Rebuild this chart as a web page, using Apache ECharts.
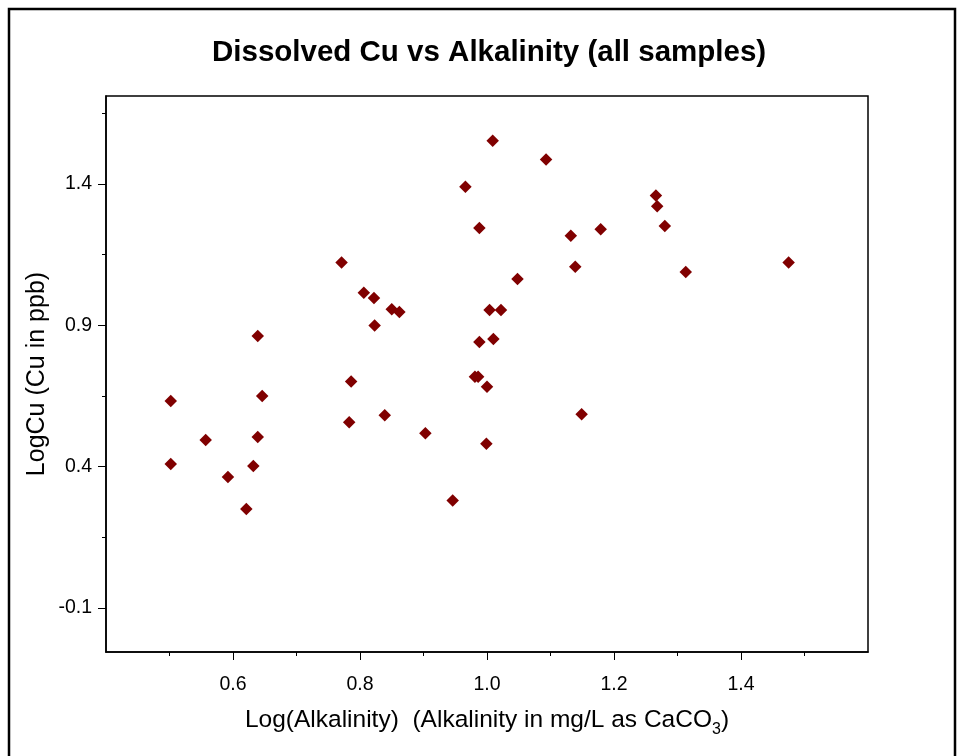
<!DOCTYPE html>
<html>
<head>
<meta charset="utf-8">
<style>
  html, body { margin: 0; padding: 0; background: #fff; }
  #chart { width: 964px; height: 756px; }
</style>
<script src="https://cdn.jsdelivr.net/npm/echarts@6/dist/echarts.min.js"></script>
</head>
<body>
<div id="chart"></div>
<script>
// Data
var logAlkalinity = [
  0.502, 0.502, 0.557, 0.592, 0.621, 0.632, 0.639, 0.639, 0.646,
  0.771, 0.806, 0.822, 0.850, 0.862, 0.823, 1.048, 1.004, 1.022, 0.988, 1.010,
  0.786, 0.981, 0.986, 1.000, 0.839, 0.783, 0.903, 0.999, 0.946,
  1.009, 1.093, 0.966, 0.988, 1.132, 1.179, 1.139,
  1.266, 1.268, 1.280, 1.313, 1.475, 1.149
];
var logCu = [
  0.632, 0.409, 0.494, 0.363, 0.250, 0.402, 0.862, 0.505, 0.650,
  1.122, 1.015, 0.996, 0.957, 0.947, 0.899, 1.064, 0.954, 0.954, 0.841, 0.851,
  0.701, 0.718, 0.718, 0.682, 0.582, 0.557, 0.518, 0.481, 0.280,
  1.553, 1.486, 1.390, 1.244, 1.217, 1.240, 1.107,
  1.359, 1.321, 1.251, 1.088, 1.122, 0.585
];
var xMajorTicks = [0.6, 0.8, 1.0, 1.2, 1.4];
var xMinorTicks = [0.5, 0.7, 0.9, 1.1, 1.3, 1.5];
var yMajorTicks = [-0.1, 0.4, 0.9, 1.4];
var yMinorTicks = [0.15, 0.65, 1.15, 1.65];
var titleText = 'Dissolved Cu vs Alkalinity (all samples)';
var yTitle = 'LogCu (Cu in ppb)';

var points = logAlkalinity.map(function (x, i) { return [x, logCu[i]]; });
var FONT = '"Liberation Sans", Arial, sans-serif';
var fmt = function (v) { return Number(v).toFixed(1); };

var chart = echarts.init(document.getElementById('chart'), null, { renderer: 'canvas' });
chart.setOption({
  animation: false,
  backgroundColor: '#fff',
  title: {
    text: titleText,
    left: 207,
    top: 33,
    textStyle: { fontFamily: FONT, fontSize: 29.5, fontWeight: 'bold', color: '#000' }
  },
  graphic: [{
    type: 'rect',
    shape: { x: 9, y: 9, width: 946, height: 800 },
    style: { fill: 'none', stroke: '#000', lineWidth: 2.5 },
    silent: true
  }],
  grid: {
    left: 106, right: 96, top: 96, bottom: 104,
    show: true, borderColor: '#000', borderWidth: 1.5, backgroundColor: '#fff'
  },
  xAxis: [{
    type: 'value', min: 0.4, max: 1.6,
    axisLine: { show: true, onZero: false, lineStyle: { color: '#000', width: 1.5 } },
    axisTick: { show: true, inside: false, length: 8, customValues: xMajorTicks, lineStyle: { color: '#000' } },
    axisLabel: { customValues: xMajorTicks, formatter: fmt, margin: 23, color: '#000', fontFamily: FONT, fontSize: 19.5 },
    splitLine: { show: false },
    name: '{a|Log(Alkalinity)  (Alkalinity in mg/L as CaCO}{s|3}{a|)}',
    nameLocation: 'middle',
    nameGap: 53,
    nameMoveOverlap: false,
    nameTextStyle: {
      rich: {
        a: { fontFamily: FONT, fontSize: 24.5, color: '#000', lineHeight: 28, verticalAlign: 'bottom' },
        s: { fontFamily: FONT, fontSize: 16, color: '#000', lineHeight: 28, verticalAlign: 'bottom', padding: [0, 0, -5, 0] }
      }
    }
  }, {
    type: 'value', min: 0.4, max: 1.6, position: 'bottom',
    axisLine: { show: false, onZero: false },
    axisTick: { show: true, inside: false, length: 4, customValues: xMinorTicks, lineStyle: { color: '#000' } },
    axisLabel: { show: false },
    splitLine: { show: false }
  }],
  yAxis: [{
    type: 'value', min: -0.256, max: 1.711,
    axisLine: { show: true, onZero: false, lineStyle: { color: '#000', width: 1.5 } },
    axisTick: { show: true, inside: false, length: 8, customValues: yMajorTicks, lineStyle: { color: '#000' } },
    axisLabel: { customValues: yMajorTicks, formatter: fmt, margin: 14, color: '#000', fontFamily: FONT, fontSize: 19.5 },
    splitLine: { show: false },
    name: yTitle,
    nameLocation: 'middle',
    nameGap: 56,
    nameMoveOverlap: false,
    nameTextStyle: { fontFamily: FONT, fontSize: 25, color: '#000' }
  }, {
    type: 'value', min: -0.256, max: 1.711, position: 'left',
    axisLine: { show: false, onZero: false },
    axisTick: { show: true, inside: false, length: 4, customValues: yMinorTicks, lineStyle: { color: '#000' } },
    axisLabel: { show: false },
    splitLine: { show: false }
  }],
  series: [{
    type: 'scatter',
    xAxisIndex: 0, yAxisIndex: 0,
    data: points,
    symbol: 'diamond',
    symbolSize: 12.5,
    itemStyle: { color: '#800000', opacity: 1 }
  }]
});
</script>
</body>
</html>
